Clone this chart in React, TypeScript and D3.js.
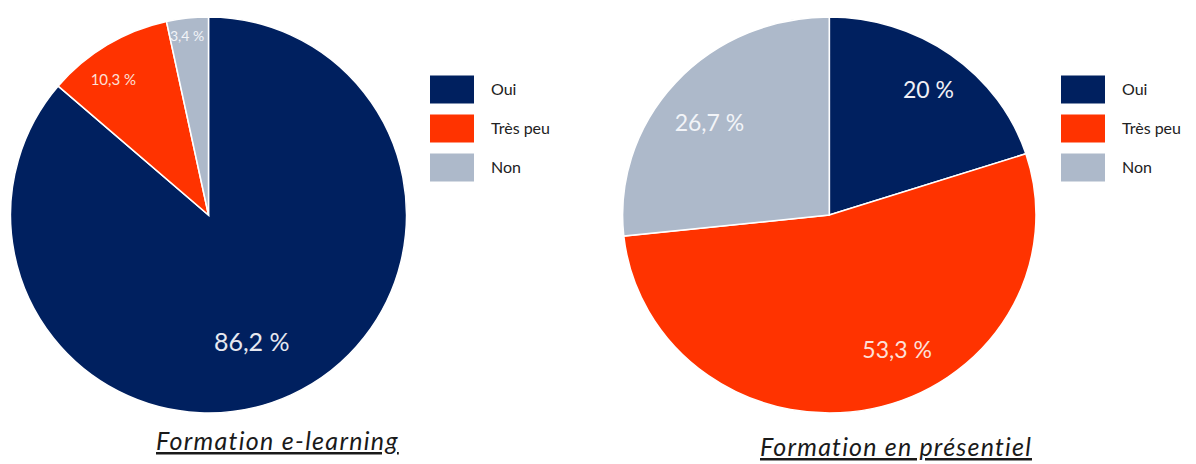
import React from 'react'
import * as d3 from 'd3'

// data
const categories = ['Oui', 'Très peu', 'Non']
const elearningValues = [86.2, 10.3, 3.4]
const presentielValues = [20, 53.3, 26.7]
const elearningLabels = ['86,2 %', '10,3 %', '3,4 %']
const presentielLabels = ['20 %', '53,3 %', '26,7 %']
const titles = ['Formation e-learning', 'Formation en présentiel']

const colors = ['#00205f', '#ff3300', '#adb9ca']
const FONT = 'Lato, "Open Sans", sans-serif'

interface IPieProps {
    values: number[]
    labels: string[]
    cx: number
    cy: number
    r: number
    sx: number
    // [radius fraction, dx, dy]
    labelPos: number[][]
    labelSize: number[]
    labelColor: string[]
}

const Pie = (props: IPieProps) => {
    const pie = d3.pie<number>().sort(null).value((d) => d)
    const arc = d3.arc<d3.PieArcDatum<number>>().innerRadius(0).outerRadius(props.r)
    const arcs = pie(props.values)
    return (
        <g transform={`translate(${props.cx},${props.cy})`}>
            <g transform={`scale(${props.sx},1)`}>
                {arcs.map((a, i) => (
                    <path key={i} d={arc(a) || ''} fill={colors[i]} stroke='#ffffff' strokeWidth={1.5} />
                ))}
            </g>
            {arcs.map((a, i) => {
                // label along the slice bisector, nudged
                const mid = (a.startAngle + a.endAngle) / 2
                const [k, dx, dy] = props.labelPos[i]
                const x = Math.sin(mid) * props.r * k * props.sx + dx
                const y = -Math.cos(mid) * props.r * k + dy
                return (
                    <text key={i} x={x} y={y} dy='0.35em' textAnchor='middle'
                        fontFamily={FONT} fontSize={props.labelSize[i]} fill={props.labelColor[i]}>
                        {props.labels[i]}
                    </text>
                )
            })}
        </g>
    )
}

const Legend = (props: { x: number; y: number }) => (
    <g transform={`translate(${props.x},${props.y})`}>
        {categories.map((c, i) => (
            <g key={c} transform={`translate(0,${i * 39})`}>
                <rect x={0} y={0} width={44} height={28} fill={colors[i]} />
                <text x={61} y={14} dy='0.35em' fontFamily={FONT} fontSize={16} fill='#222'>{c}</text>
            </g>
        ))}
    </g>
)

const App = () => {
    return (
        <svg width={1196} height={464} style={{ position: 'absolute', left: 0, top: 0, background: '#fff' }}>
            <Pie values={elearningValues} labels={elearningLabels} cx={208.5} cy={215} r={198} sx={1}
                labelPos={[[0.68, -13, 5], [0.83, -11, 6], [0.92, -2, 2]]} labelSize={[25, 15, 14]}
                labelColor={['#e6e8f0', '#fde0d8', '#f2f4f8']} />
            <Pie values={presentielValues} labels={presentielLabels} cx={829.3} cy={215} r={198} sx={1.044}
                labelPos={[[0.8, 2, 3], [0.69, 38, 1], [0.76, -3, 9]]} labelSize={[23, 23, 23]}
                labelColor={['#f0f0f5', '#fde0d8', '#f2f4f8']} />
            <Legend x={430} y={75.5} />
            <Legend x={1061} y={75.5} />
            <text x={156} y={450} fontFamily={FONT} fontStyle='italic' fontSize={25} letterSpacing={1.3}
                fill='#1a1a1a' textDecoration='underline'>{titles[0]}</text>
            <text x={760} y={456} fontFamily={FONT} fontStyle='italic' fontSize={25} letterSpacing={1.2}
                fill='#1a1a1a' textDecoration='underline'>{titles[1]}</text>
        </svg>
    )
}

export default App
